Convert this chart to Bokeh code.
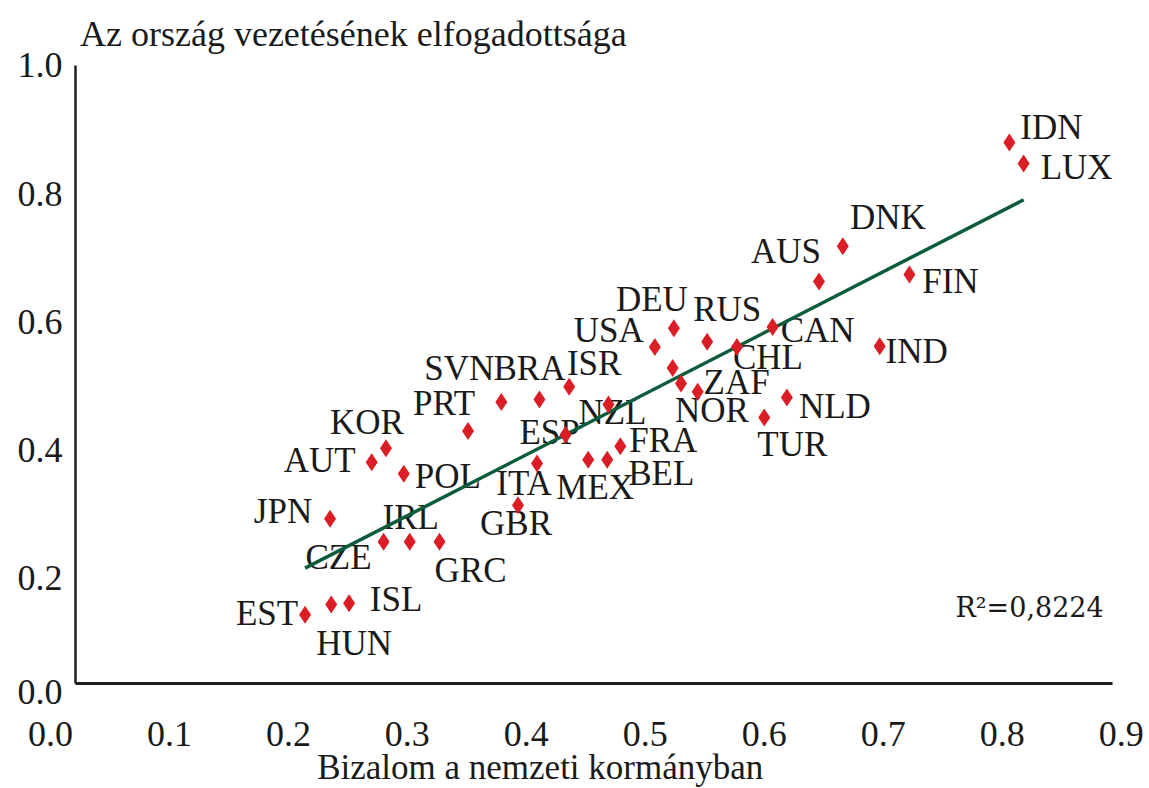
import numpy as np
from bokeh.plotting import figure
from bokeh.models import (ColumnDataSource, Range1d, LinearAxis, FixedTicker,
                          PrintfTickFormatter, Label)
from bokeh.embed import file_html
from bokeh.resources import INLINE
from bokeh.core.properties import value

# ---------------- data ----------------
countries = ["IDN", "LUX", "DNK", "AUS", "FIN", "CAN", "IND", "DEU", "USA", "RUS",
             "CHL", "", "NOR", "ZAF", "NLD", "TUR", "ISR", "BRA", "SVN", "NZL",
             "PRT", "ESP", "FRA", "BEL", "MEX", "ITA", "GBR", "KOR", "AUT", "POL",
             "JPN", "CZE", "IRL", "GRC", "EST", "HUN", "ISL"]
trust_in_government = [0.806, 0.818, 0.666, 0.646, 0.722, 0.607, 0.697, 0.524, 0.508, 0.552,
                       0.577, 0.523, 0.530, 0.544, 0.619, 0.600, 0.436, 0.411, 0.379, 0.469,
                       0.351, 0.433, 0.479, 0.468, 0.452, 0.409, 0.393, 0.282, 0.270, 0.297,
                       0.235, 0.280, 0.302, 0.327, 0.214, 0.236, 0.251]
leadership_approval = [0.880, 0.847, 0.718, 0.663, 0.674, 0.592, 0.562, 0.590, 0.561, 0.569,
                       0.561, 0.528, 0.504, 0.491, 0.482, 0.451, 0.499, 0.479, 0.475, 0.471,
                       0.430, 0.424, 0.406, 0.385, 0.385, 0.379, 0.314, 0.403, 0.381, 0.363,
                       0.293, 0.257, 0.257, 0.257, 0.143, 0.159, 0.161]
trend_slope = 0.9515
trend_intercept = 0.0122
r_squared_text = "R\u00b2=0,8224"

x_ticks = [0.0, 0.1, 0.2, 0.3, 0.4, 0.5, 0.6, 0.7, 0.8, 0.9]
x_tick_labels = ["0.0", "0.1", "0.2", "0.3", "0.4", "0.5", "0.6", "0.7", "0.8", "0.9"]
y_ticks = [0.0, 0.2, 0.4, 0.6, 0.8, 1.0]
y_tick_labels = ["0.0", "0.2", "0.4", "0.6", "0.8", "1.0"]

title_text = "Az ország vezetésének elfogadottsága"
x_title_text = "Bizalom a nemzeti kormányban"

# ---------------- layout / style ----------------
# label offsets in screen pixels (dx right, dy down)
label_offsets = {
    "IDN": (42, -15), "LUX": (53, 4), "DNK": (45, -29), "AUS": (-33, -30),
    "FIN": (41, 7), "CAN": (45, 3), "IND": (37, 5), "DEU": (-22, -29),
    "USA": (-46, -16), "RUS": (20, -32), "CHL": (31, 11), "": (0, 0),
    "NOR": (31, 27), "ZAF": (39, -9), "NLD": (48, 9), "TUR": (28, 27),
    "ISR": (25, -23), "BRA": (-10, -31), "SVN": (-42, -34), "NZL": (4, 8),
    "PRT": (-24, -27), "ESP": (-16, -2), "FRA": (43, -6), "BEL": (54, 14),
    "MEX": (7, 28), "ITA": (-13, 20), "GBR": (-2, 18), "KOR": (-19, -26),
    "AUT": (-52, -2), "POL": (44, 3), "JPN": (-47, -7), "CZE": (-45, 16),
    "IRL": (1, -24), "GRC": (31, 29), "ISL": (47, -4), "EST": (-38, -1),
    "HUN": (23, 39),
}

FONT = "Liberation Serif"
TEXT_COLOR = "#1a1a1a"
AXIS_COLOR = "#1e1e1e"
DIAMOND_COLOR = "#db1d25"
LINE_COLOR = "#0c5c3b"

W, H = 1149, 788
x_lo, x_hi = -0.0420, 0.9238
y_lo, y_hi = -0.1279, 1.1014
axis_x0, axis_x1 = 0.021, 0.8926   # extent of the drawn x-axis line
axis_y0, axis_y1 = 0.0359, 1.0     # extent of the drawn y-axis line
# in the original the "0.0" label of the y axis sits level with the axis line
y_label_positions = [axis_y0 - 0.014 if t == 0.0 else t for t in y_ticks]

p = figure(width=W, height=H, output_backend="svg", toolbar_location=None,
           x_axis_type=None, y_axis_type=None, min_border=0,
           x_range=Range1d(x_lo, x_hi), y_range=Range1d(y_lo, y_hi))
p.outline_line_color = None
p.background_fill_color = "white"
p.border_fill_color = "white"

# axis lines
x_line_axis = LinearAxis(fixed_location=axis_y0, bounds=(axis_x0, axis_x1),
                         ticker=FixedTicker(ticks=[]), axis_line_width=3,
                         axis_line_color=AXIS_COLOR, major_tick_line_color=None,
                         minor_tick_line_color=None, major_label_text_font_size="0px")
y_line_axis = LinearAxis(fixed_location=axis_x0, bounds=(axis_y0, axis_y1),
                         ticker=FixedTicker(ticks=[]), axis_line_width=2.5,
                         axis_line_color=AXIS_COLOR, major_tick_line_color=None,
                         minor_tick_line_color=None, major_label_text_font_size="0px")
p.add_layout(x_line_axis, "below")
p.add_layout(y_line_axis, "left")

# tick label axes
x_lab_axis = LinearAxis(fixed_location=axis_y0, ticker=FixedTicker(ticks=x_ticks),
                        formatter=PrintfTickFormatter(format="%.1f"),
                        major_label_overrides=dict(zip(x_ticks, x_tick_labels)),
                        axis_line_color=None, major_tick_line_color=None,
                        minor_tick_line_color=None, major_tick_out=0, major_tick_in=0,
                        major_label_standoff=38, major_label_text_font=FONT,
                        major_label_text_font_size="36px",
                        major_label_text_color=TEXT_COLOR)
y_lab_axis = LinearAxis(fixed_location=axis_x0, ticker=FixedTicker(ticks=y_label_positions),
                        major_label_overrides=dict(zip(y_label_positions, y_tick_labels)),
                        axis_line_color=None, major_tick_line_color=None,
                        minor_tick_line_color=None, major_tick_out=0, major_tick_in=0,
                        major_label_standoff=13, major_label_text_font=FONT,
                        major_label_text_font_size="36px",
                        major_label_text_color=TEXT_COLOR)
p.add_layout(x_lab_axis, "below")
p.add_layout(y_lab_axis, "left")

# country labels
src = ColumnDataSource(dict(
    x=trust_in_government, y=leadership_approval, name=countries,
    dx=[label_offsets[c][0] for c in countries],
    dy=[label_offsets[c][1] for c in countries],
))
p.text(x="x", y="y", text="name", x_offset="dx", y_offset="dy", source=src,
       text_font=value(FONT), text_font_size="35px", text_align="center",
       text_baseline="middle", text_color=TEXT_COLOR)

# trend line across the data's x extent
xt = np.array([min(trust_in_government), max(trust_in_government)])
yt = trend_intercept + trend_slope * xt
p.line(xt, yt, line_color=LINE_COLOR, line_width=3.5)

# points
p.scatter(x="x", y="y", source=src, marker="diamond", size=18,
          fill_color=DIAMOND_COLOR, line_color=None)

# texts
p.add_layout(Label(x=0.0248, y=1.0484, text=title_text, text_font=FONT,
                   text_font_size="36px", text_color=TEXT_COLOR,
                   text_align="left", text_baseline="alphabetic"))
p.add_layout(Label(x=0.2242, y=-0.0945, text=x_title_text, text_font=FONT,
                   text_font_size="35px", text_color=TEXT_COLOR,
                   text_align="left", text_baseline="alphabetic"))
p.add_layout(Label(x=0.8853, y=0.1549, text=r_squared_text, text_font="DejaVu Serif",
                   text_font_size="27px", text_color=TEXT_COLOR,
                   text_align="right", text_baseline="alphabetic"))

open("out.html", "w").write(file_html(p, INLINE))
